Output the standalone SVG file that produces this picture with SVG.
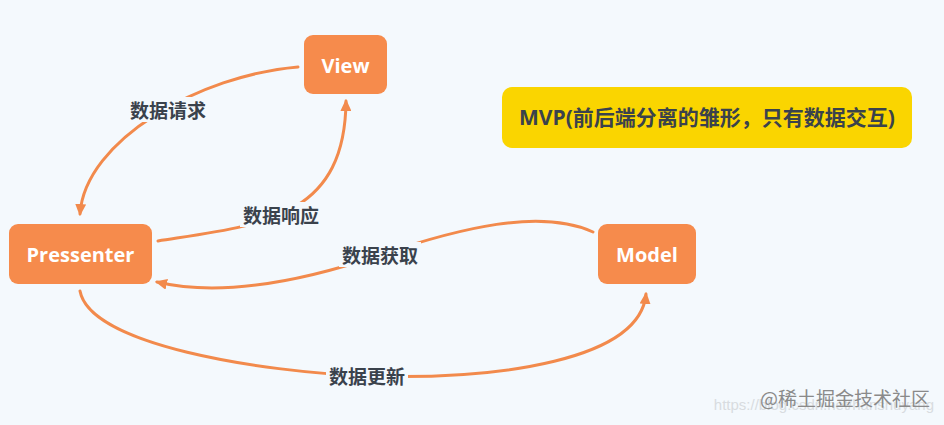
<svg xmlns="http://www.w3.org/2000/svg" width="944" height="425" viewBox="0 0 944 425">
<style>
.node{fill:#F68B4C}
.nt{font-family:"Open Sans","Noto Sans",sans-serif;font-weight:bold;font-size:20px;fill:#FFFFFF;text-anchor:middle;dominant-baseline:central}
.edge{fill:none;stroke:#F28A4C;stroke-width:3;stroke-linecap:round}
.lblbg{fill:#F4F9FD}
.lbl{font-family:"Noto Sans CJK SC","Open Sans",sans-serif;font-weight:bold;font-size:19px;fill:#3A424C;text-anchor:middle;dominant-baseline:central}
.title{font-family:"Open Sans","Noto Sans CJK SC",sans-serif;font-weight:bold;font-size:21px;fill:#3A424C;text-anchor:middle;dominant-baseline:central}
.wm{font-family:"Noto Sans CJK SC",sans-serif;font-size:19px;fill:#8A8A8A;text-anchor:end}
.wm2{font-family:"Liberation Sans",sans-serif;font-size:15px;fill:#D8DCE0;text-anchor:end}
</style>
<defs>
<marker id="arr" markerWidth="12" markerHeight="11" refX="10" refY="5.5" orient="auto" markerUnits="userSpaceOnUse" viewBox="0 0 12 11">
<path d="M0,0 L12,5.5 L0,11 Z" fill="#F28A4C"/>
</marker>
</defs>
<rect width="944" height="425" fill="#F4F9FD"/>
<g id="connectors">
<path class="edge" d="M298,67 C200,75 85,140 80,214" marker-end="url(#arr)"/>
<path class="edge" d="M158,241 C260,225 345,220 346,101" marker-end="url(#arr)"/>
<path class="edge" d="M593,232 C540,208 460,228 380,255 C300,282 220,297 157,282" marker-end="url(#arr)"/>
<path class="edge" d="M80,291 C90,345 260,372 368,376 C500,380 640,360 646,294" marker-end="url(#arr)"/>
<rect class="lblbg" x="127" y="97" width="82" height="25"/>
<text class="lbl" x="168" y="109">数据请求</text>
<rect class="lblbg" x="240" y="202" width="82" height="25"/>
<text class="lbl" x="281" y="214">数据响应</text>
<rect class="lblbg" x="339" y="242" width="82" height="25"/>
<text class="lbl" x="380" y="254">数据获取</text>
<rect class="lblbg" x="326" y="363" width="82" height="25"/>
<text class="lbl" x="367" y="375">数据更新</text>
</g>
<g id="view">
<rect class="node" x="304" y="35" width="83" height="59" rx="9"/>
<text class="nt" x="345.5" y="65">View</text>
</g>
<g id="pressenter">
<rect class="node" x="9" y="224" width="143" height="60" rx="9"/>
<text class="nt" x="80.5" y="254">Pressenter</text>
</g>
<g id="model">
<rect class="node" x="598" y="224" width="98" height="60" rx="9"/>
<text class="nt" x="647" y="254">Model</text>
</g>
<g id="title">
<rect x="502" y="87" width="410" height="61" rx="10" fill="#FAD500"/>
<text class="title" x="707" y="117">MVP(前后端分离的雏形，只有数据交互)</text>
</g>
<g id="watermark">
<text class="wm2" x="934" y="410">https://blog.csdn.net/hanshuyang</text>
<text class="wm" x="930" y="406">@稀土掘金技术社区</text>
</g>
</svg>
